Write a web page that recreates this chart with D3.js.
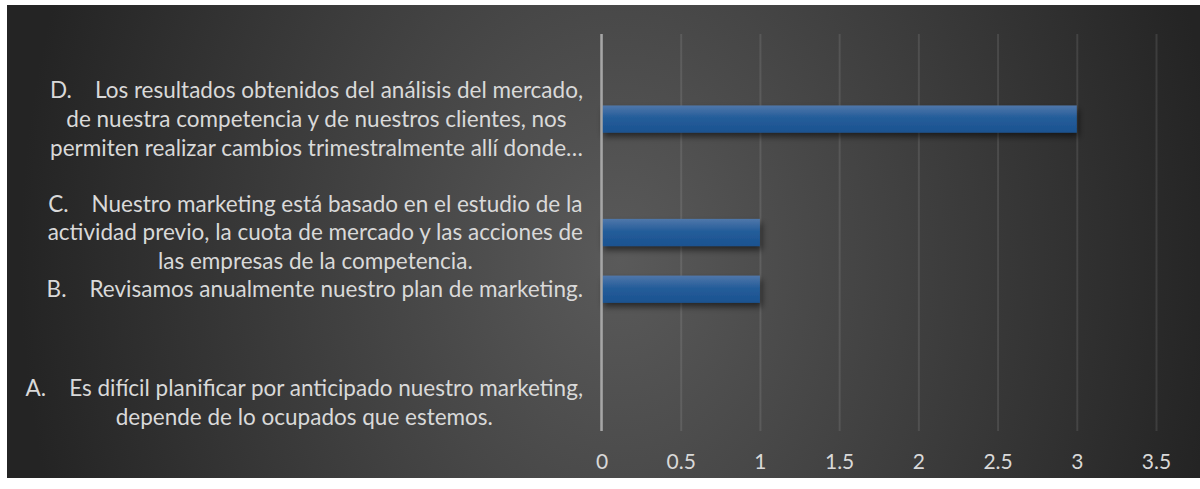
<html>
  <head>
    <meta charset="utf-8" />
    <script src="https://cdnjs.cloudflare.com/ajax/libs/d3/7.6.1/d3.min.js"></script>
    <style>
      body { margin: 0; background: #fff; }
      svg { display: block; }
      text { font-family: Lato, "Open Sans", sans-serif; fill: #d9d9d9; }
    </style>
  </head>
  <body>
    <svg width="1200" height="489"></svg>
  </body>

  <script>
    // categories bottom -> top, as in the sheet (blank rows included)
    const categories = [
      "A.\u00a0\u00a0\u00a0 Es difícil planificar por anticipado nuestro marketing,|depende de lo ocupados que estemos.",
      "",
      "B.\u00a0\u00a0\u00a0 Revisamos anualmente nuestro plan de marketing.",
      "C.\u00a0\u00a0\u00a0 Nuestro marketing está basado en el estudio de la|actividad previo, la cuota de mercado y las acciones de|las empresas de la competencia.",
      "",
      "D.\u00a0\u00a0\u00a0 Los resultados obtenidos del análisis del mercado,|de nuestra competencia y de nuestros clientes, nos|permiten realizar cambios trimestralmente allí donde…",
      ""
    ];
    const values = [0, null, 1, 1, null, 3, null];
    const xTicks = [0, 0.5, 1, 1.5, 2, 2.5, 3, 3.5];

    const svg = d3.select("svg");
    const defs = svg.append("defs");

    const bg = defs.append("radialGradient")
      .attr("id", "bg")
      .attr("gradientUnits", "userSpaceOnUse")
      .attr("cx", 620).attr("cy", 260).attr("r", 600)
      .attr("gradientTransform", "translate(620,260) scale(1,1.3) translate(-620,-260)");
    bg.append("stop").attr("offset", 0).attr("stop-color", "#5a5a5a");
    bg.append("stop").attr("offset", 1).attr("stop-color", "#242424");

    const barGrad = defs.append("linearGradient")
      .attr("id", "bar").attr("x1", 0).attr("y1", 0).attr("x2", 0).attr("y2", 1);
    barGrad.append("stop").attr("offset", 0).attr("stop-color", "#5077aa");
    barGrad.append("stop").attr("offset", 0.45).attr("stop-color", "#245d9a");
    barGrad.append("stop").attr("offset", 1).attr("stop-color", "#1b5290");

    const shadow = defs.append("filter").attr("id", "shadow")
      .attr("x", "-5%").attr("y", "-20%").attr("width", "115%").attr("height", "170%");
    shadow.append("feDropShadow")
      .attr("dx", 2).attr("dy", 4).attr("stdDeviation", 3)
      .attr("flood-color", "#000").attr("flood-opacity", 0.55);

    svg.append("rect")
      .attr("x", 7).attr("y", 5).attr("width", 1193).attr("height", 473)
      .attr("fill", "url(#bg)");

    const x = d3.scaleLinear().domain([0, 3.5]).range([601.5, 1156]);
    const y = d3.scaleBand()
      .domain(d3.range(categories.length))
      .range([431, 34])
      .paddingInner(0.52)
      .paddingOuter(0.26);

    // gridlines + tick labels
    const xAxis = d3.axisBottom(x)
      .tickValues(xTicks)
      .tickSize(-(431 - 34))
      .tickPadding(23)
      .tickFormat(d3.format("~g"));

    const gx = svg.append("g")
      .attr("transform", "translate(0,431)")
      .call(xAxis);
    gx.select(".domain").remove();
    gx.selectAll(".tick line")
      .attr("stroke", "#ffffff")
      .attr("stroke-opacity", 0.1)
      .attr("stroke-width", 2);
    gx.selectAll(".tick text")
      .style("font-size", "21px")
      .attr("fill", "#d9d9d9");

    // bars
    svg.append("g")
      .selectAll("rect")
      .data(values.map((v, i) => ({ i, v })).filter((d) => d.v))
      .join("rect")
      .attr("x", x(0))
      .attr("y", (d) => y(d.i))
      .attr("width", (d) => x(d.v) - x(0))
      .attr("height", y.bandwidth())
      .attr("fill", "url(#bar)")
      .attr("filter", "url(#shadow)");

    // category axis line
    svg.append("line")
      .attr("x1", x(0)).attr("x2", x(0))
      .attr("y1", 34).attr("y2", 431)
      .attr("stroke", "#a6a6a6")
      .attr("stroke-width", 2.5);

    // category labels: lines centered, block right-aligned at 583
    const lineH = 28.8;
    const labelRight = 583;
    categories.forEach((c, i) => {
      if (!c) return;
      const lines = c.split("|");
      const cy = y(i) + y.bandwidth() / 2;
      const t = svg.append("text")
        .style("font-size", "22.5px")
        .attr("text-anchor", "middle");
      const spans = lines.map((ln, k) =>
        t.append("tspan")
          .attr("y", cy + (k - (lines.length - 1) / 2) * lineH)
          .attr("dy", "0.35em")
          .text(ln)
      );
      const w = d3.max(spans, (s) => s.node().getComputedTextLength());
      spans.forEach((s) => s.attr("x", labelRight - w / 2));
    });
  </script>
</html>
